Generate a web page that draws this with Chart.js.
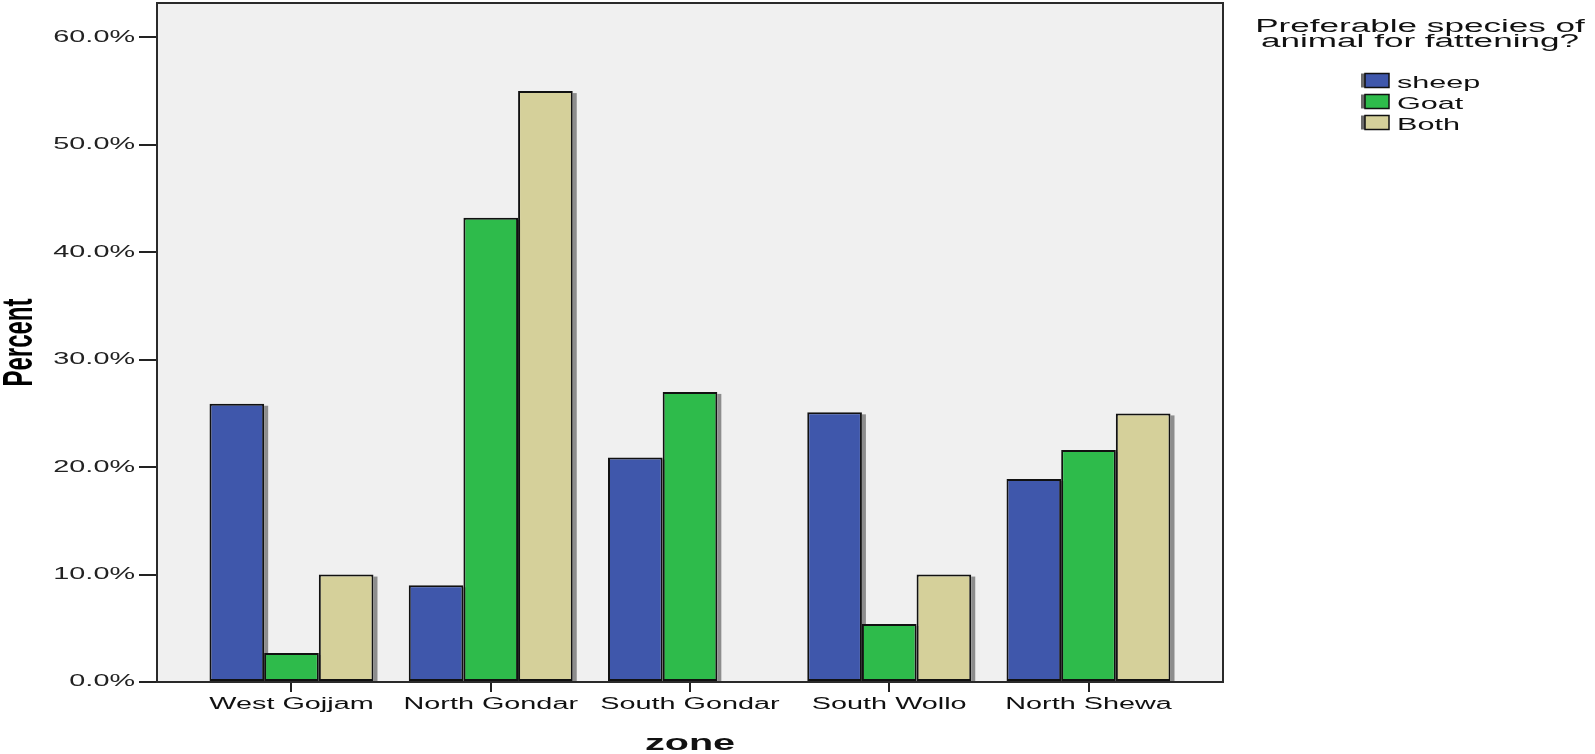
<!DOCTYPE html>
<html>
<head>
<meta charset="utf-8">
<title>Preferable species of animal for fattening, by zone</title>
<script src="https://cdn.jsdelivr.net/npm/chart.js@4.4.1/dist/chart.umd.min.js"></script>
<style>
  html, body { margin: 0; padding: 0; background: #fff; }
  #wrap { width: 1595px; height: 754px; position: relative; }
</style>
</head>
<body>
<div id="wrap"><canvas id="chartZones"></canvas></div>
<script>
// data (percent of respondents per zone)
const zones = ["West Gojjam", "North Gondar", "South Gondar", "South Wollo", "North Shewa"];
const speciesLabels = ["sheep", "Goat", "Both"];
const sheep = [25.9, 9.0, 20.9, 25.1, 18.9];
const goat = [2.7, 43.2, 27.0, 5.4, 21.6];
const both = [10.0, 55.0, 0, 10.0, 25.0];
const yTicks = [0, 10, 20, 30, 40, 50, 60];
const legendTitle = ["Preferable species of", "animal for fattening?"];

const FONT = '"Liberation Sans", Arial, sans-serif';
const X_PAD = 0.675; // empty room left/right of the first/last zone, in categories

// the original picture is stretched sideways, so the text is too
let textStretch = 1.8;
const stretchText = {
  id: 'stretchText',
  beforeInit(chart) {
    const ctx = chart.ctx;
    const fillText = ctx.fillText.bind(ctx);
    ctx.fillText = function (text, x, y) {
      const m = ctx.getTransform();
      ctx.save();
      ctx.translate(x, y);
      if (Math.abs(m.b) > Math.abs(m.a)) ctx.scale(1, textStretch);
      else ctx.scale(textStretch, 1);
      fillText(text, 0, 0);
      ctx.restore();
    };
  }
};

const plotFrame = {
  id: 'plotFrame',
  beforeDraw(chart) {
    const {ctx, chartArea: a} = chart;
    ctx.save();
    ctx.fillStyle = '#f0f0f0';
    ctx.fillRect(a.left, a.top, a.right - a.left, a.bottom - a.top);
    ctx.restore();
  },
  beforeDatasetsDraw(chart) {
    // grey drop shadow to the right of each bar
    const ctx = chart.ctx;
    ctx.save();
    ctx.fillStyle = 'rgba(60,60,60,0.55)';
    chart.data.datasets.forEach((ds, i) => {
      chart.getDatasetMeta(i).data.forEach(bar => {
        const h = bar.base - bar.y;
        if (h <= 0) return;
        ctx.fillRect(bar.x + bar.width / 2, bar.y + 2, 4, h - 2);
      });
    });
    ctx.restore();
  },
  afterDatasetsDraw(chart) {
    const {ctx, chartArea: a} = chart;
    ctx.save();
    ctx.strokeStyle = '#2a2a2a';
    ctx.lineWidth = 2;
    ctx.strokeRect(a.left, a.top, a.right - a.left, a.bottom - a.top);
    ctx.restore();
  },
  afterDraw(chart) {
    const ctx = chart.ctx;
    const lx = chart.chartArea.right;
    ctx.save();
    ctx.fillStyle = '#111';
    ctx.textBaseline = 'alphabetic';
    ctx.textAlign = 'center';
    ctx.font = '18px ' + FONT;
    textStretch = 1.95;
    legendTitle.forEach((line, i) => ctx.fillText(line, lx + 197, 32 + i * 15));
    textStretch = 1.8;
    ctx.textAlign = 'left';
    ctx.font = '17px ' + FONT;
    chart.data.datasets.forEach((ds, i) => {
      const y = 73.5 + i * 21;
      ctx.fillStyle = '#6a6a6a';
      ctx.fillRect(lx + 138, y, 6, 14);
      ctx.fillStyle = ds.backgroundColor;
      ctx.fillRect(lx + 142, y, 24, 14);
      ctx.strokeStyle = '#111';
      ctx.lineWidth = 1.5;
      ctx.strokeRect(lx + 142, y, 24, 14);
      ctx.fillStyle = '#111';
      ctx.fillText(ds.label, lx + 174, y + 14);
    });
    ctx.restore();
  }
};

const barStyle = {
  borderColor: '#111',
  borderWidth: 2,
  borderSkipped: false,
  categoryPercentage: 0.823,
  barPercentage: 1
};

const data = {
  labels: zones,
  datasets: [
    Object.assign({label: speciesLabels[0], data: sheep, backgroundColor: '#3f57ab'}, barStyle),
    Object.assign({label: speciesLabels[1], data: goat, backgroundColor: '#2ebb4b'}, barStyle),
    Object.assign({label: speciesLabels[2], data: both, backgroundColor: '#d5d09a'}, barStyle)
  ]
};

const config = {
  type: 'bar',
  data: data,
  options: {
    responsive: true,
    maintainAspectRatio: false,
    animation: false,
    layout: { padding: { top: 3, right: 372, bottom: 0, left: 0 } },
    plugins: {
      legend: { display: false },
      tooltip: { enabled: false }
    },
    scales: {
      x: {
        afterBuildTicks: s => {
          s._startValue = -X_PAD;
          s._valueRange = zones.length - 1 + 2 * X_PAD;
        },
        afterFit: s => { s.height = 72; s.paddingLeft = 0; s.paddingRight = 0; },
        grid: { offset: false, drawOnChartArea: false, drawTicks: true, tickLength: 10, color: '#222', lineWidth: 2 },
        border: { display: true, color: '#222', width: 2 },
        ticks: { color: '#111', font: { family: FONT, size: 16 }, padding: 3, maxRotation: 0, autoSkip: false },
        title: { display: true, text: 'zone', color: '#111', font: { family: FONT, size: 22, weight: 'bold' }, padding: { top: 0, bottom: -3 } }
      },
      y: {
        min: 0,
        max: 63.2,
        afterBuildTicks: s => { s.ticks = yTicks.map(v => ({ value: v })); },
        afterFit: s => { s.width = 157; s.paddingTop = 0; s.paddingBottom = 0; },
        grid: { drawOnChartArea: false, drawTicks: true, tickLength: 18, color: '#222', lineWidth: 2 },
        border: { display: true, color: '#222', width: 2 },
        ticks: { color: '#222', font: { family: FONT, size: 16 }, padding: 4, callback: v => v.toFixed(1) + '%' },
        title: { display: true, text: 'Percent', color: '#000', font: { family: FONT, size: 24, weight: 'bold' }, padding: { top: 6, bottom: 0 } }
      }
    }
  },
  plugins: [stretchText, plotFrame]
};

const myChart = new Chart(document.getElementById('chartZones'), config);
</script>
</body>
</html>
